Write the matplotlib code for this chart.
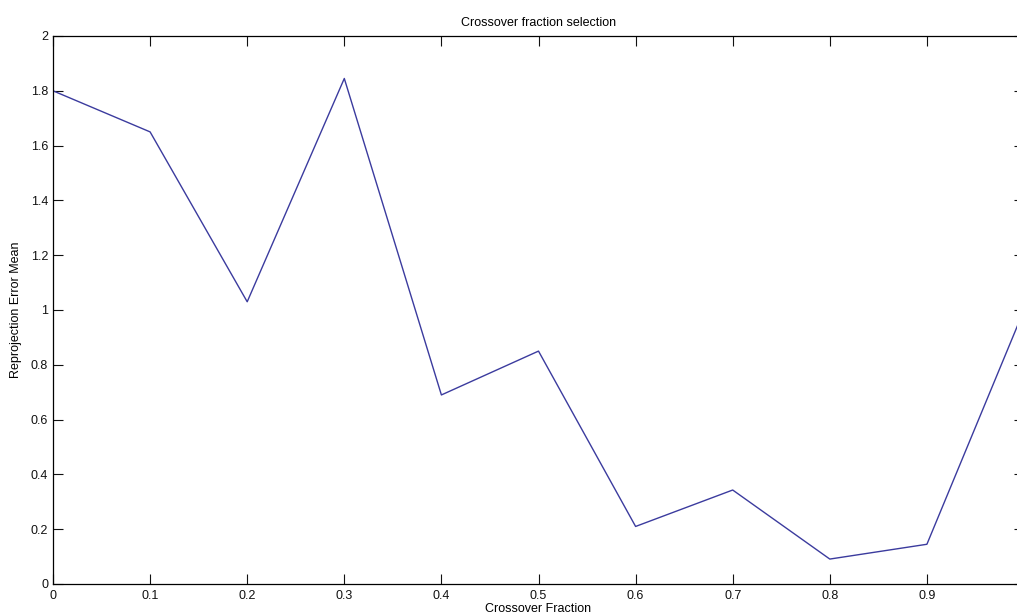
import numpy as np
import matplotlib
matplotlib.use("Agg")
import matplotlib.pyplot as plt
from matplotlib.ticker import FuncFormatter

# crossover fraction vs reprojection error mean
crossover_fraction = [0.0, 0.1, 0.2, 0.3, 0.4, 0.5, 0.6, 0.7, 0.8, 0.9, 1.0]
reprojection_error = [1.80, 1.65, 1.03, 1.845, 0.69, 0.85, 0.21, 0.343, 0.091, 0.145, 1.0]

x_ticks = [0.0, 0.1, 0.2, 0.3, 0.4, 0.5, 0.6, 0.7, 0.8, 0.9, 1.0]
y_ticks = [0.0, 0.2, 0.4, 0.6, 0.8, 1.0, 1.2, 1.4, 1.6, 1.8, 2.0]

plt.rcParams['font.family'] = ['Liberation Sans', 'DejaVu Sans']
plt.rcParams['font.size'] = 9

fig = plt.figure(figsize=(10.17, 6.16), dpi=100)
# the original screenshot is cut on the right, so the axes run past the edge
ax = fig.add_axes([53 / 1017, 32 / 616, (1024 - 53) / 1017, (584 - 36) / 616])

ax.plot(crossover_fraction, reprojection_error, color='#3b3b9e', linewidth=1.0)

ax.set_xlim(0, 1)
ax.set_ylim(0, 2)
ax.set_xticks(x_ticks)
ax.set_yticks(y_ticks)
# label at x=1 falls outside the cropped picture, leave it blank
ax.xaxis.set_major_formatter(FuncFormatter(lambda v, p: "" if v > 0.95 else "%g" % round(v, 2)))
ax.yaxis.set_major_formatter(FuncFormatter(lambda v, p: "%g" % round(v, 2)))

ax.tick_params(direction='in', length=7, width=0.8, top=True, right=True,
               labelsize=9, colors='#111111')
ax.tick_params(axis='x', pad=4)
ax.tick_params(axis='y', pad=3.5)
for s in ax.spines.values():
    s.set_linewidth(0.9)

ax.set_title("Crossover fraction selection", fontsize=9, pad=7)
ax.set_xlabel("Crossover Fraction", fontsize=9, labelpad=1)
ax.set_ylabel("Reprojection Error Mean", fontsize=9, labelpad=6)

fig.savefig("out.png", dpi=100)
